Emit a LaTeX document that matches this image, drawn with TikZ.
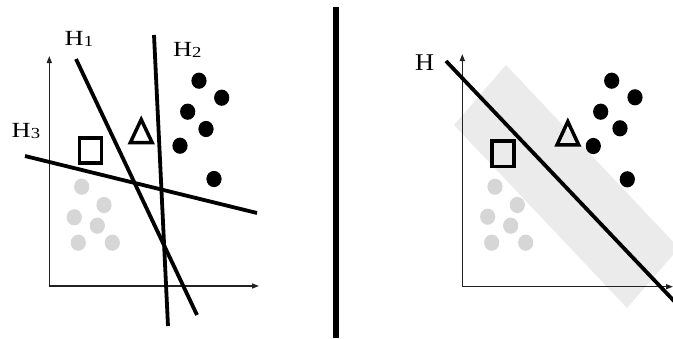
\documentclass[tikz,border=0pt]{standalone}
\usepackage{fontspec}
\setmainfont{Liberation Serif}
\usetikzlibrary{arrows.meta}
\definecolor{dotgray}{HTML}{D6D6D6}
\definecolor{bandgray}{HTML}{EBEBEB}
\definecolor{axisgray}{HTML}{222222}
\tikzset{
  axisline/.style={draw=axisgray,line width=1.4pt,-{Triangle[length=7pt,width=5pt]}},
  hyper/.style={draw=black,line width=3.8pt},
  blackdot/.style={fill=black,draw=none},
  graydot/.style={fill=dotgray,draw=none},
  marker/.style={draw=black,line width=3.5pt,line join=miter},
  hlabel/.style={inner sep=0pt,anchor=base west},
}
\newcommand{\lefthlabel}[1]{\scalebox{1.1}[0.9]{\fontsize{24}{26}\selectfont H\raisebox{-1.5pt}{\fontsize{17}{19}\selectfont #1}}}
\begin{document}
\begin{tikzpicture}[x=1pt,y=-1pt]
\useasboundingbox (0,0) rectangle (673,338);
\clip (0,0) rectangle (673,338);
% ---------- right panel band (behind everything) ----------
\fill[bandgray] (454,125) -- (506,65) -- (679,248) -- (627,308) -- cycle;
% ---------- divider ----------
\coordinate (divtop) at (335.7,7);
\coordinate (divbot) at (335.7,338);
\draw[line width=5.6pt] (divtop) -- (divbot);
% ---------- left panel ----------
\coordinate (lo) at (49.3,286);
\coordinate (lyt) at (49.3,56);
\coordinate (lxt) at (259,286);
\draw[axisline] (lo) -- (lyt);
\draw[axisline] (lo) -- (lxt);
% gray dots
\foreach \x/\y [count=\i] in {81.7/186.7,104/205,74.3/217.3,97.3/225.7,78.3/242.7,112.3/242.7}
  \fill[graydot] (\x,\y) ellipse [x radius=7.6pt,y radius=8.1pt];
% black dots
\foreach \x/\y [count=\i] in {199/80.7,221.7/97.7,187.7/111.7,206/129,180/145.7,214/179}
  \fill[blackdot] (\x,\y) ellipse [x radius=7.6pt,y radius=8.1pt];
% square and triangle
\draw[marker] (79.6,137.8) rectangle (101.4,163.2);
\draw[marker] (130.4,142.5) -- (152.1,142.5) -- (141.2,119.5) -- cycle;
% hyperplanes
\coordinate (h1a) at (76,59);   \coordinate (h1b) at (197,315);
\coordinate (h2a) at (154,35);  \coordinate (h2b) at (168,326);
\coordinate (h3a) at (25,156);  \coordinate (h3b) at (257,213);
\draw[hyper] (h1a) -- (h1b);
\draw[hyper] (h2a) -- (h2b);
\draw[hyper] (h3a) -- (h3b);
\node[hlabel] (lab1) at (64.5,45) {\lefthlabel{1}};
\node[hlabel] (lab2) at (172.8,56) {\lefthlabel{2}};
\node[hlabel] (lab3) at (11.5,137) {\lefthlabel{3}};
% ---------- right panel ----------
\coordinate (ro) at (462.3,286.7);
\coordinate (ryt) at (462.3,54);
\coordinate (rxt) at (673,286.7);
\draw[axisline] (ro) -- (ryt);
\draw[axisline] (ro) -- (rxt);
\foreach \x/\y [count=\i] in {495/186.7,517.3/205,487.7/216.7,510.7/225.7,491.7/242.7,525.7/242.7}
  \fill[graydot] (\x,\y) ellipse [x radius=7.6pt,y radius=8.1pt];
\foreach \x/\y [count=\i] in {611.7/80.7,635/97.3,600.7/111.7,620/128.3,593.3/146,627.3/179.3}
  \fill[blackdot] (\x,\y) ellipse [x radius=7.6pt,y radius=8.1pt];
\draw[marker] (491.8,141.1) rectangle (514.2,166.5);
\draw[marker] (557,144.9) -- (578.7,144.9) -- (567.8,121.6) -- cycle;
\coordinate (ha) at (446,61);
\coordinate (hb) at (675,302);
\draw[hyper] (ha) -- (hb);
\node[hlabel] (labh) at (415,70.5) {\scalebox{1.1}[1]{\fontsize{24}{26}\selectfont H}};
\end{tikzpicture}
\end{document}
